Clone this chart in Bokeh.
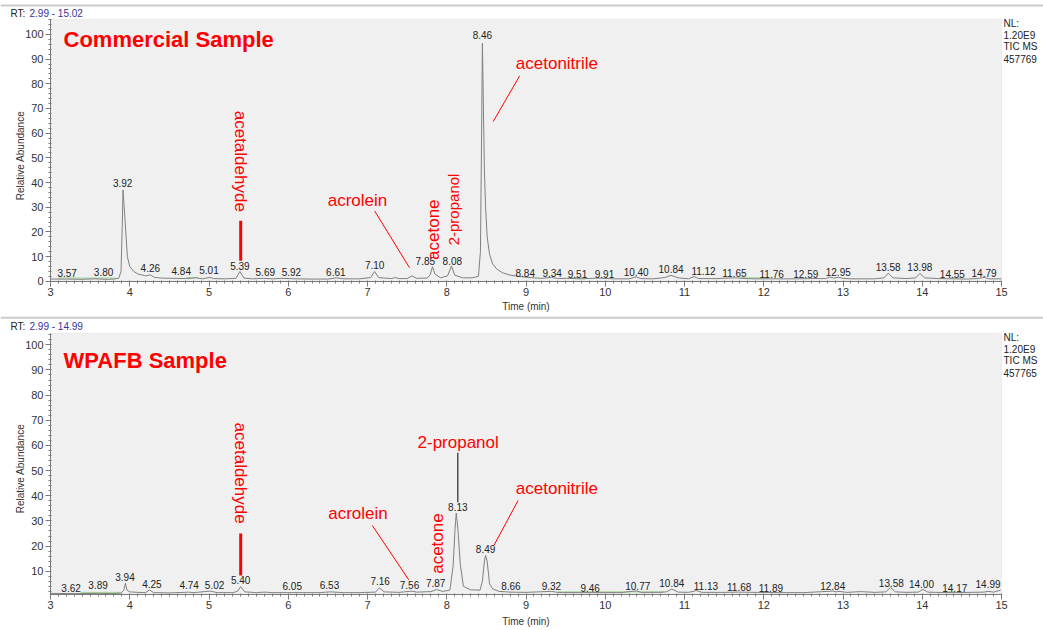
import math
from bokeh.plotting import figure
from bokeh.models import (Label, BoxAnnotation, Range1d, ColumnDataSource,
                          SingleIntervalTicker, LinearAxis)
from bokeh.layouts import column
from bokeh.embed import file_html
from bokeh.resources import INLINE
from bokeh.core.properties import value

FONT = "Liberation Sans"

# ---------------- data: top panel (Commercial Sample) ----------------
TOP_RT = [3.00, 3.20, 3.40, 3.57, 3.70, 3.80, 3.86, 3.89, 3.905, 3.915, 3.93, 3.95, 3.97, 4.00,
          4.05, 4.10, 4.20, 4.26, 4.31, 4.40, 4.55, 4.70, 4.84, 4.92, 5.01, 5.06, 5.20, 5.34,
          5.39, 5.44, 5.55, 5.69, 5.80, 5.92, 6.10, 6.30, 6.50, 6.61, 6.70, 6.90, 7.04, 7.09,
          7.14, 7.30, 7.35, 7.40, 7.50, 7.56, 7.62, 7.75, 7.79, 7.82, 7.85, 7.92, 8.01, 8.06,
          8.10, 8.20, 8.32, 8.40, 8.425, 8.44, 8.45, 8.46, 8.475, 8.49, 8.51, 8.54, 8.58, 8.63,
          8.70, 8.80, 8.95, 9.10, 9.20, 9.32, 9.40, 9.51, 9.70, 9.91, 10.10, 10.30, 10.39, 10.45,
          10.60, 10.75, 10.83, 10.92, 11.05, 11.12, 11.18, 11.40, 11.55, 11.65, 11.76, 11.90,
          12.10, 12.40, 12.59, 12.78, 12.83, 12.88, 12.94, 13.00, 13.10, 13.40, 13.52, 13.57,
          13.63, 13.80, 13.92, 13.97, 14.03, 14.20, 14.40, 14.55, 14.70, 14.78, 14.84, 15.00]
TOP_ABUND = [0.9, 0.9, 0.8, 1.0, 0.8, 0.9, 1.2, 4.0, 22.0, 37.0, 30.0, 20.0, 10.0, 6.0,
             4.0, 3.0, 2.2, 2.6, 1.6, 1.3, 1.2, 1.1, 1.4, 1.0, 1.6, 1.1, 1.0, 1.2,
             4.0, 1.3, 1.0, 1.2, 1.0, 1.2, 1.0, 0.9, 0.9, 1.4, 1.0, 1.0, 1.5, 4.0,
             1.5, 1.1, 1.5, 1.1, 1.1, 2.2, 1.2, 1.3, 2.5, 5.9, 3.0, 1.4, 2.2, 6.2,
             2.5, 1.4, 1.4, 2.0, 12.0, 60.0, 96.5, 75.0, 45.0, 30.0, 18.0, 11.0, 7.0, 5.0,
             3.5, 2.5, 1.8, 1.4, 1.2, 1.6, 1.1, 1.2, 1.0, 1.3, 1.0, 1.0, 1.8, 1.1,
             1.0, 1.5, 2.4, 1.4, 1.0, 1.9, 1.1, 1.1, 1.3, 1.4, 1.1, 1.0,
             1.0, 1.0, 1.1, 1.1, 1.7, 1.3, 1.6, 1.2, 1.0, 1.0, 1.4, 3.3,
             1.4, 1.1, 1.4, 3.2, 1.4, 1.1, 1.0, 0.9, 1.1, 1.6, 1.0, 1.0]
TOP_LABEL_TEXT = ["3.57", "3.80", "3.92", "4.26", "4.84", "5.01", "5.39", "5.69", "5.92", "6.61",
                  "7.10", "7.85", "8.08", "8.46", "8.84", "9.34", "9.51", "9.91", "10.40", "10.84",
                  "11.12", "11.65", "11.76", "12.59", "12.95", "13.58", "13.98", "14.55", "14.79"]
TOP_LABEL_RT = [3.21, 3.67, 3.91, 4.26, 4.65, 5.00, 5.39, 5.71, 6.04, 6.60,
                7.09, 7.73, 8.07, 8.45, 8.99, 9.33, 9.65, 9.99, 10.39, 10.83,
                11.24, 11.63, 12.10, 12.53, 12.94, 13.57, 13.97, 14.38, 14.78]
TOP_LABEL_Y = [3.2, 3.6, 40.0, 5.2, 4.0, 4.4, 6.3, 3.8, 3.8, 3.8,
               6.4, 8.4, 8.4, 99.8, 3.5, 3.5, 3.1, 3.1, 3.8, 4.9,
               4.0, 3.5, 2.8, 2.8, 3.8, 5.9, 5.9, 2.8, 3.5]
# integration baseline marks (green) : start, end, level
TOP_BASE_START = [3.10, 4.72, 9.53, 11.71, 14.34]
TOP_BASE_END = [3.82, 4.86, 9.73, 12.05, 14.50]
TOP_BASE_LEVEL = [1.3, 1.5, 1.4, 1.4, 1.4]

# ---------------- data: bottom panel (WPAFB Sample) ----------------
BOT_RT = [3.00, 3.30, 3.62, 3.80, 3.89, 3.925, 3.945, 3.965, 4.00, 4.10, 4.20, 4.25, 4.30,
          4.50, 4.70, 4.74, 4.80, 5.02, 5.10, 5.30, 5.36, 5.40, 5.45, 5.60, 5.70, 5.80,
          6.05, 6.20, 6.40, 6.53, 6.70, 6.90, 7.10, 7.15, 7.21, 7.40, 7.56, 7.62, 7.80,
          7.87, 7.95, 8.04, 8.08, 8.105, 8.12, 8.14, 8.17, 8.21, 8.30, 8.42, 8.45, 8.475,
          8.49, 8.51, 8.54, 8.58, 8.66, 8.80, 9.00, 9.32, 9.40, 9.46, 9.70, 10.00, 10.20,
          10.39, 10.45, 10.70, 10.77, 10.84, 10.92, 11.05, 11.15, 11.22, 11.50, 11.68,
          11.89, 12.20, 12.50, 12.87, 12.91, 12.95, 13.05, 13.22, 13.40, 13.54, 13.60,
          13.66, 13.80, 13.95, 14.01, 14.07, 14.17, 14.40, 14.60, 14.78, 14.83, 14.90, 14.99]
BOT_ABUND = [1.2, 1.1, 1.2, 1.1, 1.3, 2.5, 5.2, 2.5, 1.8, 1.6, 1.5, 2.6, 1.5,
             1.4, 1.6, 1.7, 1.5, 2.1, 1.5, 1.5, 2.0, 3.9, 1.8, 1.5, 1.7, 1.5,
             1.5, 1.5, 1.5, 1.8, 1.5, 1.5, 1.7, 3.4, 1.8, 1.6, 2.1, 1.7, 1.9,
             2.7, 2.0, 2.5, 12.0, 27.0, 33.1, 27.0, 13.0, 4.0, 2.6, 2.5, 6.0, 14.0,
             16.3, 14.0, 5.0, 3.0, 2.0, 1.7, 1.6, 2.0, 1.6, 1.5, 1.5, 1.5, 1.5,
             2.2, 1.6, 1.6, 1.8, 2.9, 1.7, 1.6, 2.3, 1.6, 1.6, 1.7,
             1.6, 1.5, 1.5, 2.1, 1.8, 2.0, 1.6, 1.9, 1.6, 1.8, 3.6,
             1.8, 1.6, 1.7, 2.8, 1.7, 1.6, 1.5, 1.6, 1.7, 2.0, 1.7, 2.5]
BOT_LABEL_TEXT = ["3.62", "3.89", "3.94", "4.25", "4.74", "5.02", "5.40", "6.05", "6.53", "7.16",
                  "7.56", "7.87", "8.13", "8.49", "8.66", "9.32", "9.46", "10.77", "10.84", "11.13",
                  "11.68", "11.89", "12.84", "13.58", "14.00", "14.17", "14.99"]
BOT_LABEL_RT = [3.26, 3.60, 3.94, 4.28, 4.75, 5.07, 5.40, 6.05, 6.52, 7.16,
                7.53, 7.86, 8.14, 8.49, 8.81, 9.32, 9.81, 10.41, 10.84, 11.27,
                11.69, 12.09, 12.87, 13.61, 13.99, 14.41, 14.83]
BOT_LABEL_Y = [3.2, 4.7, 7.6, 5.0, 4.7, 4.7, 6.6, 4.3, 4.6, 6.0,
               4.7, 5.4, 35.7, 18.8, 4.2, 4.3, 3.5, 4.3, 5.3, 4.2,
               3.9, 3.5, 4.2, 5.3, 4.8, 3.5, 4.8]
BOT_BASE_START = [3.38, 9.40, 14.26]
BOT_BASE_END = [3.88, 10.74, 14.40]
BOT_BASE_LEVEL = [1.6, 1.8, 1.8]

NL_LINES_TOP = ["NL:", "1.20E9", "TIC MS", "457769"]
NL_LINES_BOT = ["NL:", "1.20E9", "TIC MS", "457765"]
RT_TEXT_TOP = "2.99 - 15.02"
RT_TEXT_BOT = "2.99 - 14.99"

X_MIN, X_MAX = 3, 15
Y_TOP_AXIS = (0, 106.1)
Y_BOT_AXIS = (0.8, 104.6)

# ---------------- geometry (pixels) ----------------
W, H = 1043, 315
X0_PX, PXM = 50.0, 79.25                     # x=3 at 50 px, 79.25 px per minute
XR = (X_MIN - X0_PX / PXM, X_MIN + (W - X0_PX) / PXM)


class Geo:
    def __init__(self, zero_px, ppu):
        self.zero, self.ppu = zero_px, ppu
        self.yr = (-(H - zero_px) / ppu, zero_px / ppu)

    def x(self, px):
        return XR[0] + px / PXM

    def y(self, py):
        return (self.zero - py) / self.ppu


def text_label(p, x, y, text, size, color="#222222", align="left", angle=0.0, style="normal"):
    p.add_layout(Label(x=x, y=y, text=text, angle=angle, text_font=FONT, text_font_size=size,
                       text_color=color, text_align=align, text_baseline="middle",
                       text_font_style=style))


def make_panel(g, rt, ab, lx, ly, lt, bs, be, bl, yaxis_bounds, rt_text, nl_lines, sep_py,
               rt_py, nl_py, ylabel_py):
    p = figure(width=W, height=H, output_backend="svg", toolbar_location=None,
               x_range=Range1d(*XR), y_range=Range1d(*g.yr),
               x_axis_location=None, y_axis_location=None,
               min_border=0, min_border_left=0, min_border_right=0,
               min_border_top=0, min_border_bottom=0)
    p.background_fill_color = "white"
    p.border_fill_color = "white"
    p.outline_line_color = None
    p.grid.visible = False

    # grey data area
    p.add_layout(BoxAnnotation(left=X_MIN, right=X_MAX, bottom=yaxis_bounds[0],
                               top=yaxis_bounds[1], fill_color="#f0f0f0", fill_alpha=1,
                               line_color="#d4d4d4", line_width=1, level="underlay"))
    # header separator line
    p.add_layout(BoxAnnotation(bottom=g.y(sep_py + 1), top=g.y(sep_py - 1),
                               fill_color="#cccccc", fill_alpha=1, line_alpha=0,
                               level="underlay"))

    xax = LinearAxis(fixed_location=yaxis_bounds[0], bounds=(X_MIN, X_MAX),
                     ticker=SingleIntervalTicker(interval=1, num_minor_ticks=10))
    yax = LinearAxis(fixed_location=X_MIN, bounds=yaxis_bounds,
                     ticker=SingleIntervalTicker(interval=10, num_minor_ticks=5))
    for ax in (xax, yax):
        ax.axis_line_color = "#7a7a7a"
        ax.major_tick_line_color = "#7a7a7a"
        ax.minor_tick_line_color = "#7a7a7a"
        ax.major_tick_out = 5
        ax.major_tick_in = 0
        ax.minor_tick_out = 2
        ax.minor_tick_in = 1
        ax.major_label_text_font = FONT
        ax.major_label_text_font_size = "11px"
        ax.major_label_text_color = "#333333"
        ax.major_label_standoff = 2
    p.add_layout(xax, "below")
    p.add_layout(yax, "left")

    text_label(p, g.x(525.5), g.y(g.zero + 25), "Time (min)", "10px", "#333333", "center")
    text_label(p, g.x(20), g.y(ylabel_py), "Relative Abundance", "10px", "#333333", "center",
               angle=math.pi / 2)

    p.segment(x0=bs, y0=bl, x1=be, y1=bl, line_color="#9fd08f", line_width=1)
    p.line(rt, ab, line_color="#808080", line_width=1)

    src = ColumnDataSource(dict(x=lx, y=ly, t=lt))
    p.text(x="x", y="y", text="t", source=src, text_font=value(FONT), text_font_size="10px",
           text_align="center", text_baseline="middle", text_color="#222222")

    text_label(p, g.x(10), g.y(rt_py), "RT:", "10px", "#222222")
    text_label(p, g.x(29), g.y(rt_py), rt_text, "10px", "#333399")
    for i, s in enumerate(nl_lines):
        text_label(p, g.x(1003), g.y(nl_py + 11.7 * i), s, "10px", "#222222")
    return p


def red(p, x, y, text, size="17px", angle=0.0, bold=False, align="center"):
    text_label(p, x, y, text, size, "red", align, angle, "bold" if bold else "normal")


# ---------------- top panel ----------------
g1 = Geo(280.8, 2.469)
p1 = make_panel(g1, TOP_RT, TOP_ABUND, TOP_LABEL_RT, TOP_LABEL_Y, TOP_LABEL_TEXT,
                TOP_BASE_START, TOP_BASE_END, TOP_BASE_LEVEL,
                Y_TOP_AXIS, RT_TEXT_TOP, NL_LINES_TOP, 5, 12.5, 23, 155)
red(p1, 3.164, 97.8, "Commercial Sample", size="22px", bold=True, align="left")
red(p1, 5.40, 48.6, "acetaldehyde", angle=-math.pi / 2)
p1.segment(x0=[5.40], y0=[24.5], x1=[5.40], y1=[8.3], line_color="red", line_width=3)
red(p1, 6.874, 32.6, "acrolein")
p1.segment(x0=[7.09], y0=[28.5], x1=[7.53], y1=[5.5], line_color="red", line_width=1)
red(p1, 7.837, 20.9, "acetone", angle=math.pi / 2)
red(p1, 8.08, 29.1, "2-propanol", size="15px", angle=math.pi / 2)
red(p1, 9.39, 88.1, "acetonitrile")
p1.segment(x0=[8.92], y0=[83.2], x1=[8.586], y1=[64.7], line_color="red", line_width=1)

# ---------------- bottom panel ----------------
g2 = Geo(280.9, 2.516)
p2 = make_panel(g2, BOT_RT, BOT_ABUND, BOT_LABEL_RT, BOT_LABEL_Y, BOT_LABEL_TEXT,
                BOT_BASE_START, BOT_BASE_END, BOT_BASE_LEVEL,
                Y_BOT_AXIS, RT_TEXT_BOT, NL_LINES_BOT, 2.3, 10.7, 22, 153)
red(p2, 3.164, 93.8, "WPAFB Sample", size="22px", bold=True, align="left")
red(p2, 5.40, 49.0, "acetaldehyde", angle=-math.pi / 2)
p2.segment(x0=[5.40], y0=[25.0], x1=[5.40], y1=[8.3], line_color="red", line_width=3)
red(p2, 6.88, 32.9, "acrolein")
p2.segment(x0=[7.06], y0=[28.2], x1=[7.52], y1=[6.6], line_color="red", line_width=1)
red(p2, 7.887, 21.0, "acetone", angle=math.pi / 2)
red(p2, 8.144, 61.3, "2-propanol")
p2.segment(x0=[8.14], y0=[57.1], x1=[8.14], y1=[37.4], line_color="black", line_width=1)
red(p2, 9.39, 42.8, "acetonitrile")
p2.segment(x0=[8.90], y0=[38.1], x1=[8.594], y1=[20.2], line_color="red", line_width=1)

layout = column(p1, p2, spacing=0)
open("out.html", "w").write(file_html(layout, INLINE))
